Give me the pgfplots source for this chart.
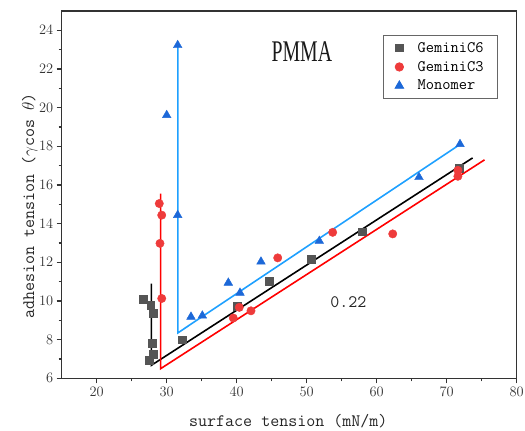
\documentclass[border=0pt]{standalone}
\usepackage{fontspec}
\usepackage{pgfplots}
\pgfplotsset{compat=1.18}
\newfontfamily\pmmafont{Liberation Serif}
\definecolor{cgray}{HTML}{555555}
\definecolor{cred}{HTML}{EE3B3B}
\definecolor{ctri}{HTML}{1C68D8}
\definecolor{cblue}{HTML}{1EA0FF}
\begin{document}
\begin{tikzpicture}
\path[use as bounding box] (0,0) rectangle (525pt,431pt);
\begin{axis}[
  scale only axis, width=455pt, height=367.3pt,
  at={(61.7pt,52.7pt)}, anchor=south west,
  xmin=15, xmax=80, ymin=6, ymax=25,
  xtick={20,30,...,80}, ytick={6,8,...,24},
  minor x tick num=1, minor y tick num=1,
  tick pos=left, tick align=outside,
  major tick length=5pt, minor tick length=3pt,
  axis line style={line width=1.1pt, draw=black!80},
  every tick/.style={line width=1.1pt, draw=black!80},
  tick label style={font=\fontsize{13.5}{14}\selectfont, text=black!80},
  xlabel={surface tension (mN/m)},
  ylabel={adhesion tension ($\gamma$cos $\theta$)},
  label style={font=\fontsize{17.5}{18}\selectfont\ttfamily, text=black!85},
  xlabel style={at={(axis description cs:0.498,-0.118)}, anchor=center},
  ylabel style={at={(axis description cs:-0.07,0.47)}, anchor=center, rotate=0},
  legend style={at={(axis cs:77.33,23.74)}, anchor=north east, draw=black!60, line width=0.8pt,
    font=\fontsize{16}{19}\selectfont\ttfamily, row sep=3.5pt, inner xsep=12pt, inner ysep=4.5pt,
    /tikz/every odd column/.append style={column sep=12pt}},
  legend image code/.code={\draw[#1] plot coordinates {(0.15cm,0cm)};},
  legend cell align=left,
]
% fit lines
\addplot[black, line width=1.6pt, forget plot] coordinates {(27.8,10.9) (27.8,6.67) (73.7,17.4)};
\addplot[red, line width=1.6pt, forget plot] coordinates {(29.14,15.55) (29.14,6.5) (75.4,17.3)};
\addplot[cblue, line width=1.6pt, forget plot] coordinates {(31.6,23.2) (31.6,8.35) (71.9,18.1)};
% data
\addplot[only marks, mark=square*, mark size=3.8pt, mark options={draw=cgray, fill=cgray}] coordinates {
(26.66,10.10) (27.71,9.79) (28.09,9.36) (27.94,7.81) (28.09,7.26) (27.51,6.95)
(32.19,8.0) (40.09,9.74) (44.66,11.03) (50.61,12.17) (57.94,13.58) (71.8,16.88)};
\addlegendentry{GeminiC6}
\addplot[only marks, mark=*, mark size=4.2pt, mark options={draw=cred, fill=cred}] coordinates {
(28.94,15.04) (29.29,14.44) (29.04,12.98) (29.29,10.13) (39.51,9.12) (40.37,9.67)
(42.04,9.49) (45.86,12.23) (53.71,13.55) (62.29,13.47) (71.6,16.76) (71.6,16.45)};
\addlegendentry{GeminiC3}
\addplot[only marks, mark=triangle*, mark size=5pt, mark options={draw=ctri, fill=ctri}] coordinates {
(31.57,23.23) (30.0,19.61) (31.57,14.44) (33.47,9.18) (35.09,9.24) (38.8,10.94)
(40.47,10.42) (43.47,12.03) (51.8,13.10) (66.04,16.4) (71.9,18.11)};
\addlegendentry{Monomer}
\node[font=\pmmafont\fontsize{30}{30}\selectfont, text=black!90] at (axis cs:49.3,22.88) {\scalebox{0.66}[1]{PMMA}};
\node[font=\fontsize{17.5}{18}\selectfont\ttfamily, text=black!85] at (axis cs:55.94,9.93) {0.22};
\end{axis}
\end{tikzpicture}
\end{document}
